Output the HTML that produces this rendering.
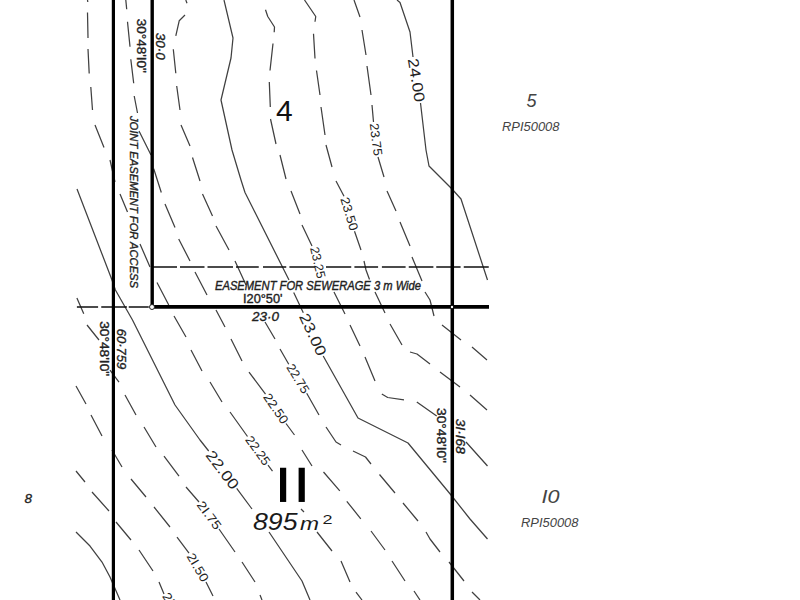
<!DOCTYPE html>
<html><head><meta charset="utf-8"><title>Survey plan</title>
<style>html,body{margin:0;padding:0;background:#fff;overflow:hidden}svg{display:block}</style>
</head><body>
<svg width="800" height="600" viewBox="0 0 800 600">
<rect width="800" height="600" fill="#ffffff"/>
<g fill="none" stroke="#404040" stroke-width="1.25" stroke-linecap="butt" stroke-linejoin="round">
<path d="M87.5 0 L87.8 2 M87.5 12.5 L88 38 M88 49 L89.2 73.5 M90.8 87 L92.5 110 M95 125 L104 147.5 M110 160 L115 182 M120 194 L127.5 212 M140 244 L150 267 M157 282.5 L168.75 305 M174 316 L186 337 M191 350 L202 371 M210 382 L222 402 M230 412 L247.5 436.5 M268 465 L272.5 471 M301 509 L304 512 M317 532 L332 551 M341 561 L350 582 M356 592 L362 600 M125.8 0 L126.7 9.2 M127.5 21.7 L130 46.7 M130.8 59.2 L133.7 83.3 M134.2 96 L137.5 113 M139 131 L151 155 M153.7 168.7 L161.3 192.5 M165 204 L175 227.5 M178.7 239 L190 261 M195 272 L207 295 M216 310 L225 327 M231 339 L242 361 M249 372 L265.5 394 M286 423.5 L294.5 435 M302 450 L312 466 M323.5 472 L339.8 490.8 M346.8 501.3 L360.8 518.8 M371 531 L385 550 M392 561 L405 581 M414 591 L420 600 M185.8 0 L187 3.3 M185 15 L179.2 20.8 L175.8 35.8 M173.3 49.2 L175.8 73.3 M176.7 86 L180 110 M181 125 L190 146 M192.5 157.5 L200 181 M202.5 194 L212.5 216 M216 226 L229 250 M235 261 L246 285 M265 322 L275 339 M280 349 L288.75 364.2 M306.7 393.3 L319 415 M326 427 L336 442 L341 445 M353 451 L365.5 457 L371 464 M379.5 474.5 L395 493 M403 503 L418 521 M426 532 L430 539 L440 552 M449 562 L464 581 M472 592 L480 600 M265.5 9.75 L267.75 16.5 L274.5 27 L274.2 32.25 M273 43.5 L270 70.5 M269.3 82 L270.3 107 M270.5 119 L276 144 M280 155 L286 179 M291 191 L300 214 M302 225 L312 246 M334 292 L345 314 M350 325 L360 346 M365 357 L375 381 M381.8 394 L387.7 397.5 L404 399.8 M416.8 402 L436.7 416 M466 442 L487.5 466 M304.5 0 L315.75 16.5 L315 21.75 M313.5 33.75 L315 58.5 M316.5 70.5 L320 95 M321 107 L325 135 M326 145 L332 167 M336 181 L344 196.3 M354.5 231.3 L361 250 M364 261 L366 270 L369.5 279.5 M375 292 L385 313 M390 324 L402 345 M410 352 L417 354 L430 364 M440 372 L460 387 M470 395 L487 410 M354 0 L360 17 M362 30 L366 55 M367 66 L371 95 M372 105 L373.5 122 M378 157 L384 177 M387 191 L396 211 M400 222 L410 246 M412 257 L422 281 M425 292 L430 300 L434 316 M442 325 L461 340 M472 347 L487 360 M76.9 298 L83.75 313.75 M87 325 L99 340 M110 370 L119 382 M125 395 L136 415 M144 427 L156 447 M164 456 L179 476 M186 487 L199 502 M219 529 L235 552 M242 562 L255 582 M260 595 L262 600 M76 386 L86 404 M91 415 L102 436 M112 450 L122 467 M131 479 L146 497 M154 507 L170 527 M177 537 L189 553 M206 582 L213 596 M76 471 L85 482 M92 492 L109 511 M116 522 L131 540 M139 550 L153 571 M159 582 L164 594 M224 0 L233 38 L231 58 L221 100 L232 150 L241 180 L245 192.5 L289 280 M293.7 292.5 L303.3 312.8 M323.2 356 L358 418 L408 443 L451 495 L470 519 L487.5 539 M397 0 L400 2.5 L410 32 L413 57 M420.5 103 L426 150 L429 166 L452 189 L461 199 L487.5 280 M77 189 L112 280 L115.4 290 L132.5 320 L175 405 L200 440 L208.7 451 M236.7 488.3 L252 509 M269 532 L302 581 L310 600 M76 532 L90 546 L102 562 L110 577 L120 600"/>
<path d="M151 267 L177 267 M180 267 L204.5 267 M207.5 267 L233 267 M236 267 L258.75 267 M263 267 L286.25 267 M289.4 267 L315 267 M326 267 L351.25 267 M354.4 267 L378.1 267 M381.9 267 L405.6 267 M408.75 267 L433.4 267 M436.25 267 L460.6 267 M463.75 267 L488.75 267 M76.9 307 L98.1 307 M101.25 307 L126.9 307 M128.75 307 L148.75 307" stroke="#111" stroke-width="1.3"/>
</g>
<g stroke="#000" fill="none" stroke-linecap="butt">
<path d="M113.4 0 L113.4 600" stroke-width="3.2"/>
<path d="M152.2 0 L152.2 307" stroke-width="3.4"/>
<path d="M452.3 0 L452.3 600" stroke-width="3.5"/>
<path d="M152.2 306.8 L489 306.8" stroke-width="3.8"/>
</g>
<circle cx="152" cy="307" r="2.5" fill="#fff" stroke="#222" stroke-width="1"/>
<circle cx="452" cy="307" r="1.2" fill="#fff" stroke="none"/>
<rect x="280" y="467.75" width="6.2" height="34.2" fill="#000"/>
<rect x="298.6" y="467.75" width="6.2" height="34.2" fill="#000"/>
<g font-family='"Liberation Sans", sans-serif'>
<text transform="translate(416.75 80) rotate(80.7)" x="0" y="0" text-anchor="middle" dominant-baseline="central" font-size="15" textLength="44" lengthAdjust="spacingAndGlyphs" fill="#222">24.00</text>
<text transform="translate(375.75 139.5) rotate(82.7)" x="0" y="0" text-anchor="middle" dominant-baseline="central" font-size="12.5" textLength="33" lengthAdjust="spacingAndGlyphs" fill="#222">23.75</text>
<text transform="translate(349 214) rotate(73.3)" x="0" y="0" text-anchor="middle" dominant-baseline="central" font-size="12.5" textLength="34" lengthAdjust="spacingAndGlyphs" fill="#222">23.50</text>
<text transform="translate(317.6 262.6) rotate(76.7)" x="0" y="0" text-anchor="middle" dominant-baseline="central" font-size="12.5" textLength="32" lengthAdjust="spacingAndGlyphs" fill="#222">23.25</text>
<text transform="translate(313.25 334.4) rotate(65.3)" x="0" y="0" text-anchor="middle" dominant-baseline="central" font-size="15" textLength="45" lengthAdjust="spacingAndGlyphs" fill="#222">23.00</text>
<text transform="translate(297.7 378.75) rotate(58.4)" x="0" y="0" text-anchor="middle" dominant-baseline="central" font-size="12.5" textLength="32" lengthAdjust="spacingAndGlyphs" fill="#222">22.75</text>
<text transform="translate(275.75 408.75) rotate(55.2)" x="0" y="0" text-anchor="middle" dominant-baseline="central" font-size="12.5" textLength="34" lengthAdjust="spacingAndGlyphs" fill="#222">22.50</text>
<text transform="translate(257.75 450.75) rotate(54.3)" x="0" y="0" text-anchor="middle" dominant-baseline="central" font-size="12.5" textLength="33" lengthAdjust="spacingAndGlyphs" fill="#222">22.25</text>
<text transform="translate(222.7 469.65) rotate(53.1)" x="0" y="0" text-anchor="middle" dominant-baseline="central" font-size="15" textLength="44" lengthAdjust="spacingAndGlyphs" fill="#222">22.00</text>
<text transform="translate(209 515.5) rotate(53.5)" x="0" y="0" text-anchor="middle" dominant-baseline="central" font-size="12.5" textLength="32" lengthAdjust="spacingAndGlyphs" fill="#222">2I.75</text>
<text transform="translate(197.5 567.5) rotate(59.6)" x="0" y="0" text-anchor="middle" dominant-baseline="central" font-size="12.5" textLength="31" lengthAdjust="spacingAndGlyphs" fill="#222">2I.50</text>
<text transform="translate(174.2 607.1) rotate(55)" x="0" y="0" text-anchor="middle" dominant-baseline="central" font-size="12.5" textLength="32" lengthAdjust="spacingAndGlyphs" fill="#222">2I.25</text>
<text transform="translate(129.5 116) rotate(90)" x="0" y="0" font-size="11.2" textLength="172" lengthAdjust="spacingAndGlyphs" fill="#222" stroke="#222" stroke-width="0.35" font-style="italic">JOINT EASEMENT FOR ACCESS</text>
<text transform="translate(137 18.75) rotate(90)" x="0" y="0" font-size="13" textLength="54" lengthAdjust="spacingAndGlyphs" fill="#222" stroke="#222" stroke-width="0.35">30°48&apos;I0&quot;</text>
<text transform="translate(156 32.75) rotate(90)" x="0" y="0" font-size="12.5" textLength="27" lengthAdjust="spacingAndGlyphs" fill="#222" stroke="#222" stroke-width="0.35" font-style="italic">30·0</text>
<text transform="translate(99.5 321.2) rotate(90)" x="0" y="0" font-size="13" textLength="55" lengthAdjust="spacingAndGlyphs" fill="#222" stroke="#222" stroke-width="0.35">30°48&apos;I0&quot;</text>
<text transform="translate(117 328.8) rotate(90)" x="0" y="0" font-size="13" textLength="40.5" lengthAdjust="spacingAndGlyphs" fill="#222" stroke="#222" stroke-width="0.35" font-style="italic">60·759</text>
<text transform="translate(437 408) rotate(90)" x="0" y="0" font-size="13" textLength="55" lengthAdjust="spacingAndGlyphs" fill="#222" stroke="#222" stroke-width="0.35">30°48&apos;I0&quot;</text>
<text transform="translate(455.6 418.8) rotate(90)" x="0" y="0" font-size="13" textLength="35" lengthAdjust="spacingAndGlyphs" fill="#222" stroke="#222" stroke-width="0.35" font-style="italic">3I·I68</text>
<text x="215" y="290.4" font-size="12.8" textLength="206" lengthAdjust="spacingAndGlyphs" fill="#222" font-style="italic" stroke="#222" stroke-width="0.4">EASEMENT FOR SEWERAGE 3 m Wide</text>
<text x="243" y="303" font-size="12" textLength="39.5" lengthAdjust="spacingAndGlyphs" fill="#222" stroke="#222" stroke-width="0.35">I20°50&apos;</text>
<text x="252" y="321" font-size="12.5" textLength="27" lengthAdjust="spacingAndGlyphs" fill="#222" font-style="italic" stroke="#222" stroke-width="0.35">23·0</text>
<text x="276" y="121" font-size="30" fill="#111">4</text>
<text x="526.5" y="107" font-size="18" fill="#444" font-style="italic">5</text>
<text x="502" y="130.6" font-size="12" textLength="57.5" lengthAdjust="spacingAndGlyphs" fill="#444" font-style="italic">RPI50008</text>
<text x="541.5" y="503" font-size="18" textLength="18" lengthAdjust="spacingAndGlyphs" fill="#444" font-style="italic">I0</text>
<text x="521" y="526.7" font-size="12" textLength="57.5" lengthAdjust="spacingAndGlyphs" fill="#444" font-style="italic">RPI50008</text>
<text x="24.5" y="503.3" font-size="13.5" fill="#222" font-style="italic" stroke="#222" stroke-width="0.3">8</text>
<text x="253" y="529.5" font-size="24" textLength="44.5" lengthAdjust="spacingAndGlyphs" fill="#1a1a1a" font-style="italic">895</text>
<text x="300" y="530" font-size="19" textLength="19" lengthAdjust="spacingAndGlyphs" fill="#1a1a1a" font-style="italic">m</text>
<text x="322.5" y="523.6" font-size="12.5" textLength="10" lengthAdjust="spacingAndGlyphs" fill="#1a1a1a">2</text>
</g>
</svg>
</body></html>
